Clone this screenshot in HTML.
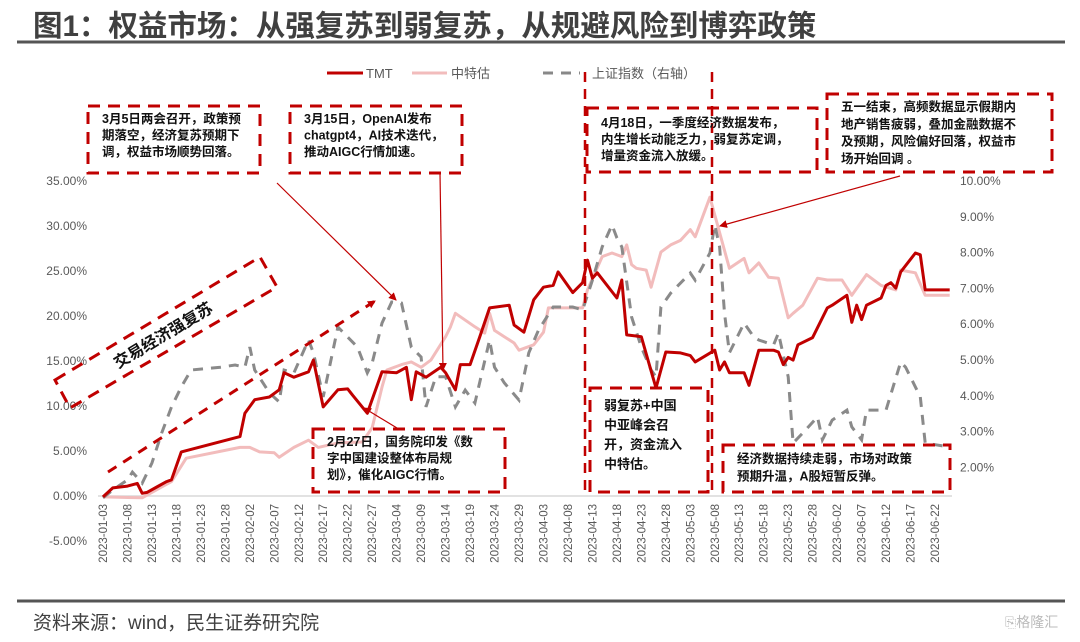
<!DOCTYPE html>
<html><head><meta charset="utf-8">
<style>
html,body{margin:0;padding:0;background:#fff;}
body{width:1080px;height:637px;overflow:hidden;position:relative;font-family:"Liberation Sans","Noto Sans CJK SC",sans-serif;}
svg text{font-family:"Liberation Sans","Noto Sans CJK SC",sans-serif;}
</style></head>
<body>
<svg id="chart" width="1080" height="637" viewBox="0 0 1080 637" xmlns="http://www.w3.org/2000/svg">
<text x="33" y="36" font-size="29.5" font-weight="bold" fill="#404040">图1：权益市场：从强复苏到弱复苏，从规避风险到博弈政策</text>
<line x1="17" y1="42" x2="1065" y2="42" stroke="#555" stroke-width="3"/>
<line x1="17" y1="601" x2="1065" y2="601" stroke="#555" stroke-width="3"/>
<text x="33" y="629" font-size="19" fill="#404040">资料来源：wind，民生证券研究院</text>
<text x="1005" y="627" font-size="14" fill="#bbb">⎘格隆汇</text>

<g id="legend">
<line x1="327" y1="73" x2="363" y2="73" stroke="#C00000" stroke-width="3"/>
<text x="366" y="78" font-size="13" fill="#595959">TMT</text>
<line x1="412" y1="73" x2="447" y2="73" stroke="#F2BCBC" stroke-width="3"/>
<text x="451" y="78" font-size="13" fill="#595959">中特估</text>
<line x1="543" y1="73" x2="580" y2="73" stroke="#888" stroke-width="3" stroke-dasharray="10,8"/>
<text x="592" y="78" font-size="13" fill="#595959">上证指数（右轴）</text>
</g>

<g id="axes"></g>
<g id="series"></g>
<g id="annot" fill="none"></g>
</svg>
<script>
// day offsets from 2023-01-03, values in %
const tmtDays=[0,2,5,7,8,9,11,13,14,16,28,29,31,34,36,37,39,42,43,45,48,50,51,54,57,60,62,63,64,66,69,70,72,73,75,77,79,83,84,86,88,90,92,93,96,98,99,100,101,105,106,107,110,113,115,118,120,121,125,126,127,128,131,132,134,137,138,139,140,141,142,145,148,149,152,153,154,155,156,159,160,161,162,163,166,167,168,173];
const tmtValues=[-0.1,0.9,1.1,1.4,0.3,0.4,1.0,1.6,1.8,4.9,6.6,9.2,10.7,11.0,11.8,13.7,13.2,13.8,15.1,9.9,11.8,11.9,11.2,9.2,13.8,13.7,14.3,10.7,13.8,13.2,14.3,13.7,11.8,14.6,14.6,17.7,20.9,21.2,19.0,18.2,21.8,23.2,23.4,24.9,22.6,23.7,26.2,24.2,24.8,22.0,24.0,17.9,17.7,12.0,16.0,15.9,15.6,14.9,16.2,14.0,14.9,13.7,13.7,12.3,16.2,16.2,16.0,14.6,15.4,15.1,16.8,17.6,20.9,21.2,22.3,19.3,21.2,19.6,21.2,22.0,23.4,23.7,23.1,24.9,27.0,26.8,22.9,22.9];
const zteDays=[0,8,12,14,17,28,30,32,35,36,39,42,44,48,53,55,57,58,61,63,65,67,70,71,72,76,78,79,80,82,84,85,88,90,91,98,99,102,104,106,107,108,109,111,112,114,116,118,120,121,124,128,131,132,134,136,138,140,141,143,146,148,151,153,156,159,162,163,166,168,173];
const zteValues=[-0.1,-0.2,1.0,1.6,4.2,5.4,5.4,4.9,4.8,4.3,5.4,6.2,5.4,5.9,6.0,7.6,12.1,14.0,14.6,14.9,14.3,15.1,17.7,18.8,20.3,18.8,18.1,20.3,18.4,17.7,17.0,16.2,16.8,18.2,20.9,20.9,22.9,26.6,27.0,26.6,27.9,25.7,25.3,25.1,23.2,27.1,27.9,28.4,29.6,28.8,33.2,25.3,26.4,24.8,25.9,24.3,24.2,19.8,20.3,21.2,24.2,24.0,24.0,22.3,24.6,23.4,22.9,25.1,24.8,22.3,22.3];
const shDays=[0,2,5,6,8,10,12,14,16,18,24,27,29,30,31,34,36,37,39,42,43,45,48,50,52,54,55,57,59,61,63,65,66,68,70,72,74,76,79,80,82,85,87,89,92,96,98,100,102,104,105,106,108,110,112,113,114,116,120,121,124,125,126,127,128,131,133,134,137,138,140,141,143,146,147,149,152,153,155,156,160,163,164,167,168,173];
const shValues=[1.15,1.37,1.65,1.87,1.56,2.12,2.96,3.69,4.25,4.72,4.80,4.86,4.80,5.36,4.72,4.08,3.83,4.72,4.64,5.56,5.20,3.97,5.92,5.64,5.36,4.64,4.92,6.03,6.62,6.59,5.36,5.08,3.69,4.53,4.53,3.69,4.16,3.80,5.56,4.80,4.36,3.88,5.20,5.84,6.48,6.48,6.40,7.23,8.16,8.77,8.41,8.16,6.20,5.36,4.72,4.53,6.48,6.87,7.43,7.23,7.99,8.77,8.16,6.31,5.20,6.03,5.64,5.56,5.42,5.75,4.53,2.68,2.96,3.41,2.77,3.32,3.60,3.13,2.77,3.60,3.60,4.94,4.80,3.97,2.68,2.57];
const leftTicks=[-5,0,5,10,15,20,25,30,35];
const rightTicks=[2,3,4,5,6,7,8,9,10];
const xTickDays=[];for(let d=0;d<=170;d+=5)xTickDays.push(d);

const NS='http://www.w3.org/2000/svg';
const x=d=>103+d*4.894;
const yL=v=>496-v*9;
const yR=v=>539-v*35.8;
function mk(tag,attrs,parent){const e=document.createElementNS(NS,tag);for(const k in attrs)e.setAttribute(k,attrs[k]);parent.appendChild(e);return e;}
function fmtDate(d){const t=new Date(Date.UTC(2023,0,3+d));return t.getUTCFullYear()+'-'+String(t.getUTCMonth()+1).padStart(2,'0')+'-'+String(t.getUTCDate()).padStart(2,'0');}
const axes=document.getElementById('axes');
const base=mk('line',{x1:98,y1:yL(0),x2:952,y2:yL(0),stroke:'#d9d9d9','stroke-width':1.5},axes);


leftTicks.forEach(v=>{const t=mk('text',{x:87,y:yL(v)+4,'font-size':12,fill:'#595959','text-anchor':'end'},axes);t.textContent=v.toFixed(2)+'%';

});
rightTicks.forEach(v=>{const t=mk('text',{x:960,y:yR(v)+4,'font-size':12,fill:'#595959'},axes);t.textContent=v.toFixed(2)+'%';

});
xTickDays.forEach(d=>{const xx=x(d)+4;const t=mk('text',{x:0,y:0,'font-size':11.5,fill:'#595959','text-anchor':'end',transform:`translate(${xx},504) rotate(-90)`},axes);t.textContent=fmtDate(d);

});

const ser=document.getElementById('series');
function path(days,vals,yf){return days.map((d,i)=>(i?'L':'M')+x(d).toFixed(1)+','+yf(vals[i]).toFixed(1)).join('');}
const pz=mk('path',{d:path(zteDays,zteValues,yL),fill:'none',stroke:'#F2BCBC','stroke-width':3,'stroke-linejoin':'round'},ser);


const ps=mk('path',{d:path(shDays,shValues,yR),fill:'none',stroke:'#8a8a8a','stroke-width':3,'stroke-dasharray':'10,8'},ser);


const pt=mk('path',{d:path(tmtDays,tmtValues,yL),fill:'none',stroke:'#C00000','stroke-width':3,'stroke-linejoin':'round'},ser);



const an=document.getElementById('annot');
const RED='#C00000';
function box(name,x0,y0,w,h,lines,ly,lh,fs){
 const r=mk('rect',{x:x0,y:y0,width:w,height:h,fill:'none',stroke:RED,'stroke-width':3,'stroke-dasharray':'12,8'},an);
 
 
 lines.forEach((s,i)=>{const t=mk('text',{x:x0+14,y:ly+i*lh,'font-size':fs||12.5,'font-weight':'bold',fill:'#111'},an);t.textContent=s;
 
 });
}
const defs=mk('defs',{},an);
const mkr=mk('marker',{id:'ah',markerWidth:8,markerHeight:8,refX:7,refY:4,orient:'auto',markerUnits:'userSpaceOnUse'},defs);
mk('path',{d:'M0,0L8,4L0,8z',fill:RED},mkr);
function arrow(name,x1,y1,x2,y2,dash){const l=mk('line',{x1,y1,x2,y2,stroke:RED,'stroke-width':dash?3:1.2,'marker-end':'url(#ah)'},an);if(dash)l.setAttribute('stroke-dasharray','10,8');
 
 }
[585,712].forEach(xx=>{const l=mk('line',{x1:xx,y1:72,x2:xx,y2:497,stroke:RED,'stroke-width':2.5,'stroke-dasharray':'10,7'},an);
 
 });
box('two-sessions-note',88,106,172,67,['3月5日两会召开，政策预','期落空，经济复苏预期下','调，权益市场顺势回落。'],123,16.5);
box('openai-note',290,106,172,67,['3月15日，OpenAI发布','chatgpt4，AI技术迭代，','推动AIGC行情加速。'],123,16.5);
box('q1-data-note',587,108,230,64,['4月18日，一季度经济数据发布，','内生增长动能乏力，弱复苏定调，','增量资金流入放缓。'],127,16.5);
box('may-day-note',827,94,225,78,['五一结束，高频数据显示假期内','地产销售疲弱，叠加金融数据不','及预期，风险偏好回落，权益市','场开始回调 。'],111,17.3);
box('weak-recovery-note',590,388,118,104,['弱复苏+中国','中亚峰会召','开，资金流入','中特估。'],410,19.5,13);
box('policy-note',723,445,227,47,['经济数据持续走弱，市场对政策','预期升温，A股短暂反弹。'],463,17.5);
box('digital-china-note',313,429,192,63,['2月27日，国务院印发《数','字中国建设整体布局规','划》，催化AIGC行情。'],446,16.5);
const pg=mk('polygon',{points:'55,380 260,257 277,287 70,408',fill:'none',stroke:RED,'stroke-width':3,'stroke-dasharray':'12,8'},an);


const st=mk('text',{x:0,y:0,'font-size':16,'font-weight':'bold',fill:'#111','text-anchor':'middle',transform:'translate(166,340) rotate(-31)'},an);
st.textContent='交易经济强复苏';


arrow('strong-recovery-arrow',108,472,375,301,true);
arrow('two-sessions-arrow',277,183,396,300);
arrow('openai-arrow',440,173,443,370);
arrow('digital-china-arrow',397,428,364,408);
arrow('may-day-arrow',900,176,720,226);
</script>
</body></html>
